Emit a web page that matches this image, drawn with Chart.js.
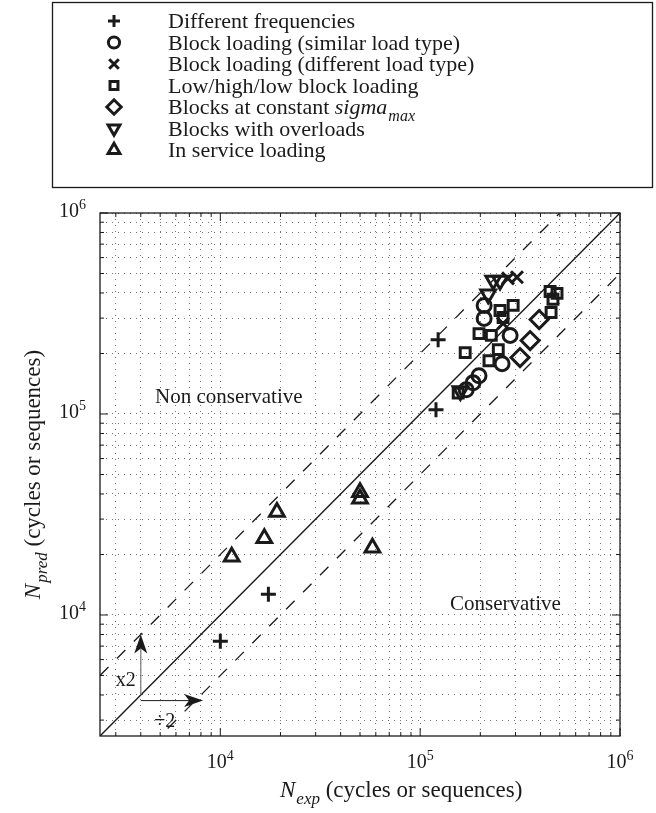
<!DOCTYPE html>
<html>
<head>
<meta charset="utf-8">
<title>Predicted vs experimental fatigue life</title>
<script src="https://cdn.jsdelivr.net/npm/chart.js@4.4.1/dist/chart.umd.min.js"></script>
<style>
  html, body { margin: 0; padding: 0; background: #ffffff; }
  canvas { display: block; }
</style>
</head>
<body>
<canvas id="lifeChart" width="656" height="813"></canvas>
<script>
// ── Data ──────────────────────────────────────────────────────────────────────
const seriesLabels = [
  'Different frequencies',
  'Block loading (similar load type)',
  'Block loading (different load type)',
  'Low/high/low block loading',
  'Blocks at constant sigma_max',
  'Blocks with overloads',
  'In service loading'
];

const freqExp  = [1.0e4, 1.74e4, 1.20e5, 1.23e5];
const freqPred = [7.4e3, 1.27e4, 1.05e5, 2.34e5];

const similarExp  = [1.70e5, 1.84e5, 1.97e5, 2.57e5, 2.82e5, 2.09e5, 2.09e5];
const similarPred = [1.32e5, 1.43e5, 1.55e5, 1.78e5, 2.46e5, 2.99e5, 3.47e5];

const differentExp  = [2.75e5, 3.05e5, 2.60e5];
const differentPred = [4.73e5, 4.79e5, 2.82e5];

const lowHighExp  = [1.55e5, 1.68e5, 1.97e5, 2.27e5, 2.46e5, 2.21e5, 2.51e5, 2.60e5, 2.92e5, 4.47e5, 4.84e5, 4.62e5, 4.52e5];
const lowHighPred = [1.27e5, 2.02e5, 2.51e5, 2.46e5, 2.09e5, 1.84e5, 3.27e5, 3.02e5, 3.47e5, 4.07e5, 3.98e5, 3.72e5, 3.20e5];

const constSigmaExp  = [3.94e5, 3.55e5, 3.16e5];
const constSigmaPred = [2.95e5, 2.32e5, 1.91e5];

const overloadExp  = [2.32e5, 2.51e5, 2.19e5, 1.59e5];
const overloadPred = [4.62e5, 4.62e5, 3.94e5, 1.30e5];

const serviceExp  = [1.14e4, 1.66e4, 1.92e4, 5.0e4, 5.0e4, 5.77e4];
const servicePred = [1.95e4, 2.41e4, 3.25e4, 4.08e4, 3.79e4, 2.16e4];

// axes
const axisMin = 2500;
const axisMax = 1e6;
const gridTicks = [3e3, 4e3, 5e3, 6e3, 7e3, 8e3, 9e3,
                   1e4, 2e4, 3e4, 4e4, 5e4, 6e4, 7e4, 8e4, 9e4,
                   1e5, 2e5, 3e5, 4e5, 5e5, 6e5, 7e5, 8e5, 9e5, 1e6];
const decadeTicks = [1e4, 1e5, 1e6];
const decadeExps  = ['4', '5', '6'];

// scatter band: N_pred = factor * N_exp
const bandFactors = [1, 2, 0.5];

// x2 / ÷2 arrows (data coordinates)
const arrowBase    = [4000, 4000];
const arrowUpTo    = 8000;
const arrowRightY  = 3750;
const arrowRightTo = 8200;

// ── Style ─────────────────────────────────────────────────────────────────────
const FONT = '"Liberation Serif", "DejaVu Serif", serif';
const INK = '#1a1a1a';

const markerStyles = [
  { style: 'cross',    rotation: 0,   radius: 7.5 },
  { style: 'circle',   rotation: 0,   radius: 7 },
  { style: 'crossRot', rotation: 0,   radius: 8.5 },
  { style: 'rect',     rotation: 0,   radius: 7 },
  { style: 'rectRot',  rotation: 0,   radius: 9 },
  { style: 'triangle', rotation: 180, radius: 8.5 },
  { style: 'triangle', rotation: 0,   radius: 8.5 }
];

const seriesData = [
  [freqExp, freqPred],
  [similarExp, similarPred],
  [differentExp, differentPred],
  [lowHighExp, lowHighPred],
  [constSigmaExp, constSigmaPred],
  [overloadExp, overloadPred],
  [serviceExp, servicePred]
];

function pairUp(xs, ys) {
  return xs.map((x, i) => ({ x: x, y: ys[i] }));
}

// ── Text helpers ──────────────────────────────────────────────────────────────
function labelParts(label) {
  const parts = [];
  label.split(/(\S+_\S+)/).forEach(chunk => {
    if (!chunk) return;
    if (chunk.indexOf('_') > 0) {
      const [base, sub] = chunk.split('_');
      parts.push({ t: base, italic: true });
      parts.push({ t: sub, italic: true, sub: true });
    } else {
      parts.push({ t: chunk });
    }
  });
  return parts;
}

function partFont(p, size) {
  const s = (p.sub || p.sup) ? Math.round(size * 0.72) : size;
  return (p.italic ? 'italic ' : '') + s + 'px ' + FONT;
}

function drawParts(ctx, parts, x, y, size, align) {
  ctx.save();
  ctx.textBaseline = 'alphabetic';
  ctx.textAlign = 'left';
  let total = 0;
  const widths = parts.map(p => {
    ctx.font = partFont(p, size);
    const w = ctx.measureText(p.t).width + (p.sub ? 1 : 0);
    total += w;
    return w;
  });
  let cx = align === 'center' ? x - total / 2 : (align === 'right' ? x - total : x);
  parts.forEach((p, i) => {
    ctx.font = partFont(p, size);
    let dy = 0;
    if (p.sub) dy = size * 0.3;
    if (p.sup) dy = -size * 0.42;
    ctx.fillText(p.t, cx + (p.sub ? 1 : 0), y + dy);
    cx += widths[i];
  });
  ctx.restore();
}

function drawMarker(ctx, m, radius, x, y) {
  ctx.save();
  ctx.strokeStyle = INK;
  ctx.fillStyle = 'rgba(0,0,0,0)';
  ctx.lineWidth = 3;
  Chart.helpers.drawPoint(ctx, { pointStyle: m.style, rotation: m.rotation, radius: radius, borderWidth: 3 }, x, y);
  ctx.restore();
}

function drawArrowHead(ctx, x, y, angle) {
  const len = 19, half = 6.5, notch = 5;
  ctx.save();
  ctx.translate(x, y);
  ctx.rotate(angle);
  ctx.beginPath();
  ctx.moveTo(0, 0);
  ctx.lineTo(-len, -half);
  ctx.lineTo(-len + notch, 0);
  ctx.lineTo(-len, half);
  ctx.closePath();
  ctx.fillStyle = INK;
  ctx.fill();
  ctx.restore();
}

// ── Overlay plugin: legend box, frame, inward ticks, labels, arrows ───────────
const overlayPlugin = {
  id: 'overlay',
  afterDraw(chart) {
    const ctx = chart.ctx;
    const area = chart.chartArea;
    const xs = chart.scales.x;
    const ys = chart.scales.y;

    // legend box
    ctx.save();
    ctx.strokeStyle = INK;
    ctx.lineWidth = 1.3;
    ctx.strokeRect(52.5, 2.5, 600, 185);
    ctx.fillStyle = INK;
    seriesLabels.forEach((lab, i) => {
      const rowY = 21 + i * 21.5;
      drawMarker(ctx, markerStyles[i], markerStyles[i].radius * 0.8, 114, rowY);
      drawParts(ctx, labelParts(lab), 168, rowY + 7, 22, 'left');
    });
    ctx.restore();

    // frame
    ctx.save();
    ctx.strokeStyle = INK;
    ctx.lineWidth = 1.3;
    ctx.strokeRect(area.left, area.top, area.right - area.left, area.bottom - area.top);

    // inward ticks on all four sides
    ctx.lineWidth = 1;
    gridTicks.forEach(v => {
      const len = decadeTicks.includes(v) ? 8 : 4;
      const px = xs.getPixelForValue(v);
      const py = ys.getPixelForValue(v);
      ctx.beginPath();
      ctx.moveTo(px, area.bottom); ctx.lineTo(px, area.bottom - len);
      ctx.moveTo(px, area.top);    ctx.lineTo(px, area.top + len);
      ctx.moveTo(area.left, py);   ctx.lineTo(area.left + len, py);
      ctx.moveTo(area.right, py);  ctx.lineTo(area.right - len, py);
      ctx.stroke();
    });
    ctx.restore();

    // tick labels
    ctx.save();
    ctx.fillStyle = INK;
    decadeTicks.forEach((v, i) => {
      const parts = [{ t: '10' }, { t: decadeExps[i], sup: true }];
      drawParts(ctx, parts, xs.getPixelForValue(v), area.bottom + 32, 20, 'center');
      drawParts(ctx, parts, area.left - 14, ys.getPixelForValue(v) + 4, 20, 'right');
    });

    // axis titles
    drawParts(ctx, [{ t: 'N', italic: true }, { t: 'exp', italic: true, sub: true }, { t: ' (cycles or sequences)' }],
      280, area.bottom + 61, 23, 'left');
    ctx.save();
    ctx.translate(40, (area.top + area.bottom) / 2);
    ctx.rotate(-Math.PI / 2);
    drawParts(ctx, [{ t: 'N', italic: true }, { t: 'pred', italic: true, sub: true }, { t: ' (cycles or sequences)' }],
      0, 0, 23, 'center');
    ctx.restore();

    // region notes
    drawParts(ctx, [{ t: 'Non conservative' }], 155, 403, 21, 'left');
    drawParts(ctx, [{ t: 'Conservative' }], 450, 610, 21, 'left');

    // x2 / ÷2 arrows
    const bx = xs.getPixelForValue(arrowBase[0]);
    const by = ys.getPixelForValue(arrowBase[1]);
    const upY = ys.getPixelForValue(arrowUpTo);
    const rY = ys.getPixelForValue(arrowRightY);
    const rX = xs.getPixelForValue(arrowRightTo);
    ctx.lineWidth = 1.2;
    ctx.strokeStyle = '#777';
    ctx.beginPath();
    ctx.moveTo(bx, by); ctx.lineTo(bx, upY + 14);
    ctx.stroke();
    drawArrowHead(ctx, bx, upY, -Math.PI / 2);
    ctx.strokeStyle = INK;
    ctx.lineWidth = 1;
    ctx.beginPath();
    ctx.moveTo(bx, rY); ctx.lineTo(rX - 14, rY);
    ctx.stroke();
    drawArrowHead(ctx, rX, rY, 0);
    drawParts(ctx, [{ t: 'x2' }], bx - 15, upY + 52, 20, 'center');
    drawParts(ctx, [{ t: '\u00f72' }], bx + 24, rY + 26, 20, 'center');
    ctx.restore();
  }
};

// ── Datasets ──────────────────────────────────────────────────────────────────
const markerDatasets = seriesLabels.map((lab, i) => ({
  label: lab,
  data: pairUp(seriesData[i][0], seriesData[i][1]),
  pointStyle: markerStyles[i].style,
  pointRotation: markerStyles[i].rotation,
  pointRadius: markerStyles[i].radius,
  pointBorderWidth: 3,
  pointBorderColor: INK,
  pointBackgroundColor: 'rgba(0,0,0,0)',
  showLine: false
}));

const bandDatasets = bandFactors.map(f => ({
  type: 'line',
  label: 'ratio ' + f,
  data: [{ x: axisMin, y: axisMin * f }, { x: axisMax, y: axisMax * f }],
  borderColor: INK,
  borderWidth: f === 1 ? 1.4 : 1.3,
  borderDash: f === 1 ? [] : [12, 12],
  pointRadius: 0,
  fill: false,
  tension: 0
}));

function logAxis() {
  return {
    type: 'logarithmic',
    min: axisMin,
    max: axisMax,
    afterBuildTicks: scale => { scale.ticks = gridTicks.map(v => ({ value: v })); },
    ticks: { display: false },
    border: { display: false, dash: [1, 5] },
    grid: {
      color: 'rgba(0,0,0,0.55)',
      lineWidth: 1,
      drawTicks: false
    }
  };
}

new Chart(document.getElementById('lifeChart'), {
  type: 'scatter',
  data: { datasets: markerDatasets.concat(bandDatasets) },
  options: {
    responsive: false,
    animation: false,
    layout: { padding: { left: 100, top: 213, right: 36, bottom: 77 } },
    plugins: {
      legend: { display: false },
      tooltip: { enabled: false }
    },
    scales: { x: logAxis(), y: logAxis() }
  },
  plugins: [overlayPlugin]
});
</script>
</body>
</html>
